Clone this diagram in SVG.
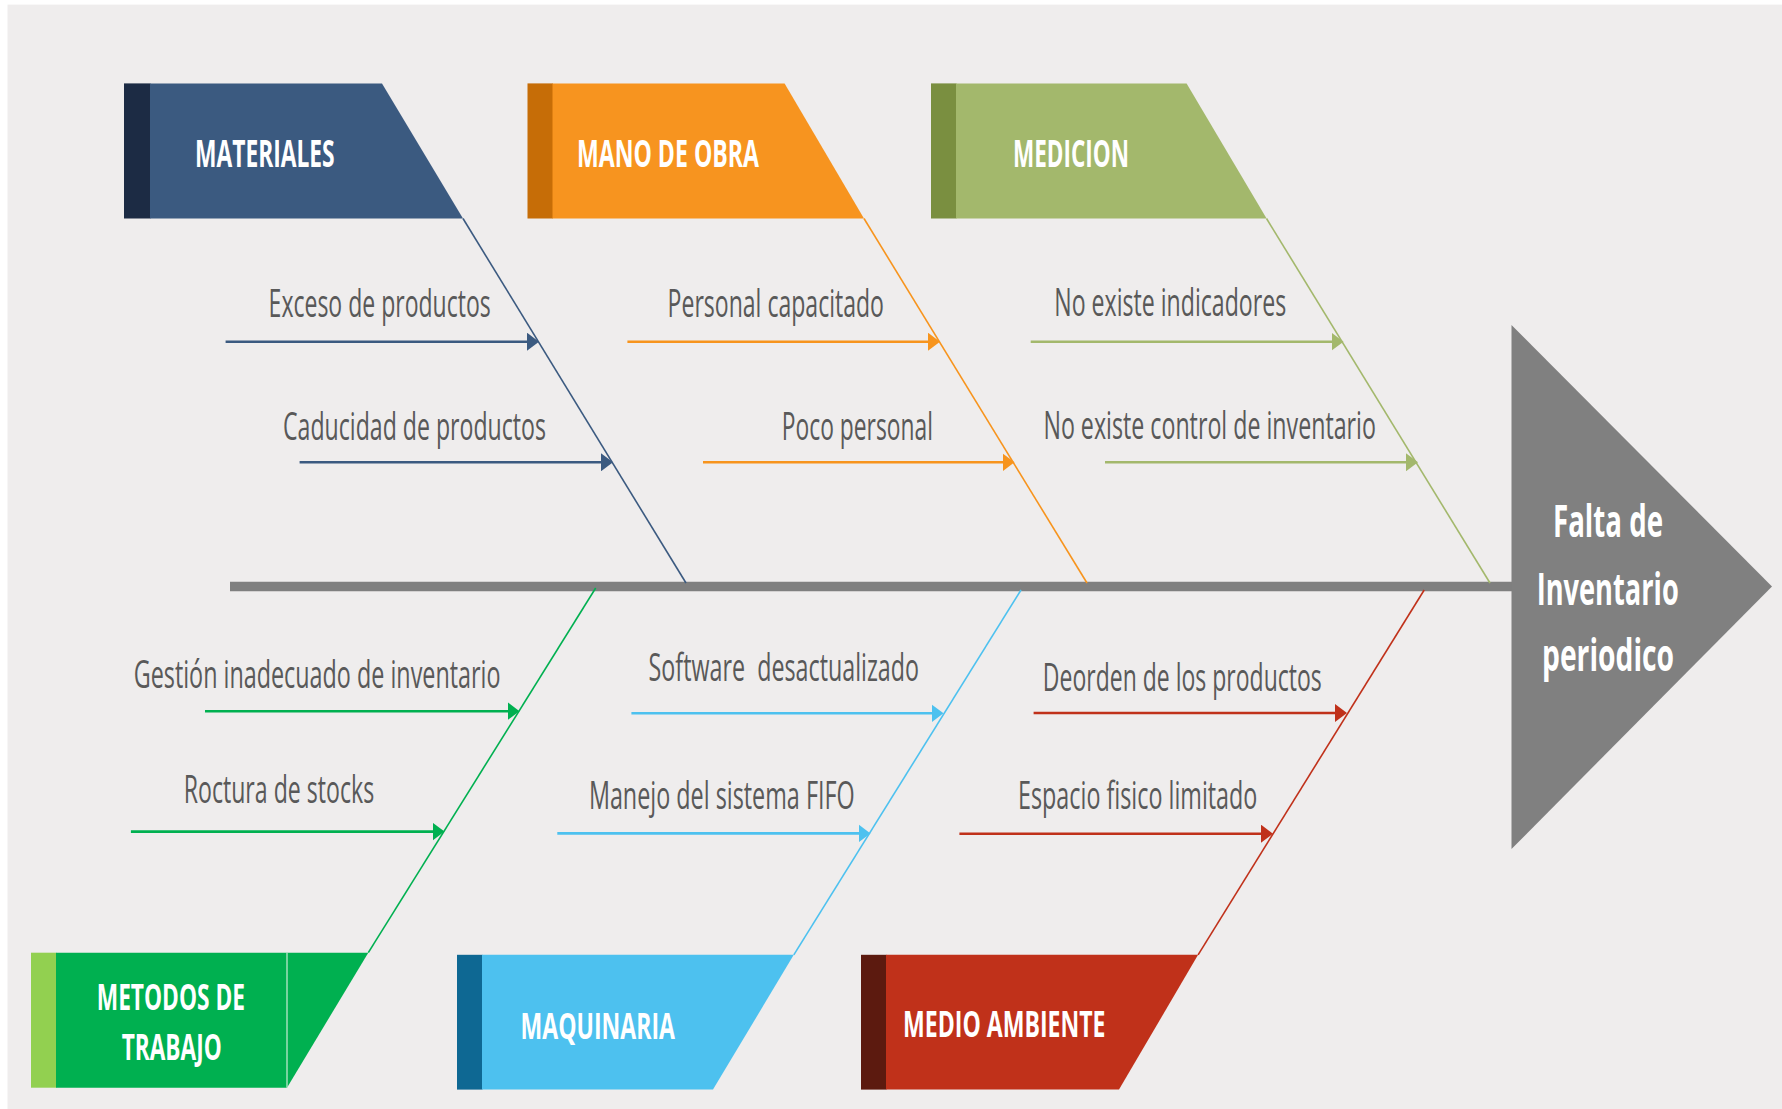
<svg xmlns="http://www.w3.org/2000/svg" width="1782" height="1109" viewBox="0 0 1782 1109">
  <style>
    .cat { font-family: "Open Sans", "Liberation Sans", sans-serif; font-weight: 700; fill: #ffffff; font-size: 38px; }
    .catb { font-family: "Open Sans", "Liberation Sans", sans-serif; font-weight: 700; fill: #ffffff; font-size: 36px; }
    .head { font-family: "Open Sans", "Liberation Sans", sans-serif; font-weight: 700; fill: #ffffff; font-size: 45px; }
    .cause { font-family: "Open Sans", "Liberation Sans", sans-serif; font-weight: 400; fill: #595959; font-size: 38px; white-space: pre; }
    .bone { fill: none; stroke-width: 1.6; }
    .arrow { fill: none; stroke-width: 2.6; }
    .blue { stroke: #3b5a80; }
    .orange { stroke: #f7941d; }
    .olive { stroke: #a3b86c; }
    .green { stroke: #00b050; }
    .sky { stroke: #4dc1ef; }
    .red { stroke: #c0311a; }
  </style>
  <defs>
    <marker id="ah-blue" viewBox="0 0 12 18" refX="4" refY="9" markerWidth="12" markerHeight="18" markerUnits="userSpaceOnUse" orient="auto">
      <path d="M0,0 L12,9 L0,18 Z" fill="#3b5a80"/>
    </marker>
    <marker id="ah-orange" viewBox="0 0 12 18" refX="4" refY="9" markerWidth="12" markerHeight="18" markerUnits="userSpaceOnUse" orient="auto">
      <path d="M0,0 L12,9 L0,18 Z" fill="#f7941d"/>
    </marker>
    <marker id="ah-olive" viewBox="0 0 12 18" refX="4" refY="9" markerWidth="12" markerHeight="18" markerUnits="userSpaceOnUse" orient="auto">
      <path d="M0,0 L12,9 L0,18 Z" fill="#a3b86c"/>
    </marker>
    <marker id="ah-green" viewBox="0 0 12 18" refX="4" refY="9" markerWidth="12" markerHeight="18" markerUnits="userSpaceOnUse" orient="auto">
      <path d="M0,0 L12,9 L0,18 Z" fill="#00b050"/>
    </marker>
    <marker id="ah-sky" viewBox="0 0 12 18" refX="4" refY="9" markerWidth="12" markerHeight="18" markerUnits="userSpaceOnUse" orient="auto">
      <path d="M0,0 L12,9 L0,18 Z" fill="#4dc1ef"/>
    </marker>
    <marker id="ah-red" viewBox="0 0 12 18" refX="4" refY="9" markerWidth="12" markerHeight="18" markerUnits="userSpaceOnUse" orient="auto">
      <path d="M0,0 L12,9 L0,18 Z" fill="#c0311a"/>
    </marker>
  </defs>

  <!-- page -->
  <rect x="0" y="0" width="1782" height="1109" fill="#ffffff"/>
  <rect x="7.5" y="4.6" width="1774.5" height="1104.4" fill="#efeded"/>

  <!-- spine, category bones and cause arrows -->
  <g id="connectors">
    <line x1="230" y1="586.5" x2="1513" y2="586.5" stroke="#7f7f7f" stroke-width="9.5"/>

    <line class="bone blue" x1="463" y1="218.5" x2="686" y2="583"/>
    <line class="bone orange" x1="864" y1="218.5" x2="1087" y2="583"/>
    <line class="bone olive" x1="1266.5" y1="218.5" x2="1490" y2="583"/>
    <line class="bone green" x1="595.7" y1="588" x2="368.3" y2="952.7"/>
    <line class="bone sky" x1="1021" y1="590" x2="793.8" y2="954.8"/>
    <line class="bone red" x1="1424.2" y1="590" x2="1198.1" y2="954.8"/>

    <line class="arrow blue" x1="225.6" y1="341.7" x2="531" y2="341.7" marker-end="url(#ah-blue)"/>
    <line class="arrow blue" x1="299.6" y1="462.3" x2="605" y2="462.3" marker-end="url(#ah-blue)"/>
    <line class="arrow orange" x1="627.4" y1="341.7" x2="932" y2="341.7" marker-end="url(#ah-orange)"/>
    <line class="arrow orange" x1="703" y1="462.3" x2="1006.5" y2="462.3" marker-end="url(#ah-orange)"/>
    <line class="arrow olive" x1="1030.7" y1="341.7" x2="1335.5" y2="341.7" marker-end="url(#ah-olive)"/>
    <line class="arrow olive" x1="1105" y1="462.3" x2="1410" y2="462.3" marker-end="url(#ah-olive)"/>
    <line class="arrow green" x1="205" y1="711.2" x2="511.5" y2="711.2" marker-end="url(#ah-green)"/>
    <line class="arrow green" x1="130.9" y1="831.6" x2="436.5" y2="831.6" marker-end="url(#ah-green)"/>
    <line class="arrow sky" x1="631.4" y1="713.3" x2="935.5" y2="713.3" marker-end="url(#ah-sky)"/>
    <line class="arrow sky" x1="557.3" y1="833.4" x2="862.5" y2="833.4" marker-end="url(#ah-sky)"/>
    <line class="arrow red" x1="1033.6" y1="713" x2="1339" y2="713" marker-end="url(#ah-red)"/>
    <line class="arrow red" x1="959.4" y1="833.7" x2="1265" y2="833.7" marker-end="url(#ah-red)"/>
  </g>

  <!-- effect -->
  <g id="effect">
    <polygon points="1511.5,325 1772,586.5 1511.5,849" fill="#808080"/>
    <text class="head" transform="translate(1553,536.7) scale(0.65,1)" textLength="169.2" lengthAdjust="spacingAndGlyphs">Falta de</text>
    <text class="head" transform="translate(1536.7,605) scale(0.65,1)" textLength="218.5" lengthAdjust="spacingAndGlyphs">Inventario</text>
    <text class="head" transform="translate(1542,671) scale(0.65,1)" textLength="203.1" lengthAdjust="spacingAndGlyphs">periodico</text>
  </g>

  <!-- upper categories -->
  <g id="materiales">
    <rect x="124" y="83.4" width="26.5" height="135.1" fill="#1c2b44"/>
    <polygon points="150,83.4 382,83.4 463,218.5 150,218.5" fill="#3b5a80"/>
    <text class="cat" transform="translate(195,167.2) scale(0.6,1)" textLength="232.7" lengthAdjust="spacingAndGlyphs">MATERIALES</text>
  </g>
  <g id="mano-de-obra">
    <rect x="527.5" y="83.4" width="25.5" height="135.1" fill="#c66d07"/>
    <polygon points="552.5,83.4 784.6,83.4 864,218.5 552.5,218.5" fill="#f7941f"/>
    <text class="cat" transform="translate(577,167.2) scale(0.6,1)" textLength="303.3" lengthAdjust="spacingAndGlyphs">MANO DE OBRA</text>
  </g>
  <g id="medicion">
    <rect x="931" y="83.4" width="25.5" height="135.1" fill="#7a8f40"/>
    <polygon points="956,83.4 1186.6,83.4 1266.6,218.5 956,218.5" fill="#a3b86c"/>
    <text class="cat" transform="translate(1013,167.2) scale(0.6,1)" textLength="193.3" lengthAdjust="spacingAndGlyphs">MEDICION</text>
  </g>

  <!-- lower categories -->
  <g id="metodos-de-trabajo">
    <rect x="31" y="952.7" width="25.5" height="135" fill="#92d050"/>
    <polygon points="56,952.7 368.3,952.7 287,1087.7 56,1087.7" fill="#00b050"/>
    <line x1="287" y1="952.7" x2="287" y2="1087.7" stroke="#c8ecd4" stroke-width="1.2"/>
    <text class="catb" transform="translate(96.7,1010) scale(0.6,1)" textLength="247.2" lengthAdjust="spacingAndGlyphs">METODOS DE</text>
    <text class="catb" transform="translate(121.7,1060) scale(0.6,1)" textLength="166.7" lengthAdjust="spacingAndGlyphs">TRABAJO</text>
  </g>
  <g id="maquinaria">
    <rect x="457" y="954.8" width="25.5" height="134.8" fill="#0e6893"/>
    <polygon points="482,954.8 793.8,954.8 713,1089.6 482,1089.6" fill="#4dc1ef"/>
    <text class="catb" transform="translate(520.6,1038.8) scale(0.6,1)" textLength="257.3" lengthAdjust="spacingAndGlyphs">MAQUINARIA</text>
  </g>
  <g id="medio-ambiente">
    <rect x="861" y="954.8" width="25.5" height="134.8" fill="#5c1a0f"/>
    <polygon points="886,954.8 1198.1,954.8 1119,1089.6 886,1089.6" fill="#c0311a"/>
    <text class="catb" transform="translate(903,1036.7) scale(0.6,1)" textLength="337.5" lengthAdjust="spacingAndGlyphs">MEDIO AMBIENTE</text>
  </g>

  <!-- causes -->
  <g id="cause-exceso"><text class="cause" transform="translate(268.6,317) scale(0.56,1)" textLength="396.8" lengthAdjust="spacingAndGlyphs">Exceso de productos</text></g>
  <g id="cause-caducidad"><text class="cause" transform="translate(283,440) scale(0.56,1)" textLength="469.6" lengthAdjust="spacingAndGlyphs">Caducidad de productos</text></g>
  <g id="cause-personal-capacitado"><text class="cause" transform="translate(667.6,317) scale(0.56,1)" textLength="386.4" lengthAdjust="spacingAndGlyphs">Personal capacitado</text></g>
  <g id="cause-poco-personal"><text class="cause" transform="translate(781.8,440) scale(0.56,1)" textLength="270" lengthAdjust="spacingAndGlyphs">Poco personal</text></g>
  <g id="cause-indicadores"><text class="cause" transform="translate(1054.3,316) scale(0.56,1)" textLength="414.1" lengthAdjust="spacingAndGlyphs">No existe indicadores</text></g>
  <g id="cause-control"><text class="cause" transform="translate(1043.4,438.5) scale(0.56,1)" textLength="593.8" lengthAdjust="spacingAndGlyphs">No existe control de inventario</text></g>
  <g id="cause-gestion"><text class="cause" transform="translate(133.7,688) scale(0.56,1)" textLength="655" lengthAdjust="spacingAndGlyphs">Gestión inadecuado de inventario</text></g>
  <g id="cause-roctura"><text class="cause" transform="translate(183.7,802.6) scale(0.56,1)" textLength="340.2" lengthAdjust="spacingAndGlyphs">Roctura de stocks</text></g>
  <g id="cause-software"><text class="cause" transform="translate(648.6,681) scale(0.56,1)" textLength="482.9" lengthAdjust="spacingAndGlyphs">Software  desactualizado</text></g>
  <g id="cause-fifo"><text class="cause" transform="translate(588.9,809) scale(0.56,1)" textLength="474.6" lengthAdjust="spacingAndGlyphs">Manejo del sistema FIFO</text></g>
  <g id="cause-deorden"><text class="cause" transform="translate(1042.8,691.3) scale(0.56,1)" textLength="498.2" lengthAdjust="spacingAndGlyphs">Deorden de los productos</text></g>
  <g id="cause-espacio"><text class="cause" transform="translate(1018,809) scale(0.56,1)" textLength="427.5" lengthAdjust="spacingAndGlyphs">Espacio fisico limitado</text></g>
</svg>
